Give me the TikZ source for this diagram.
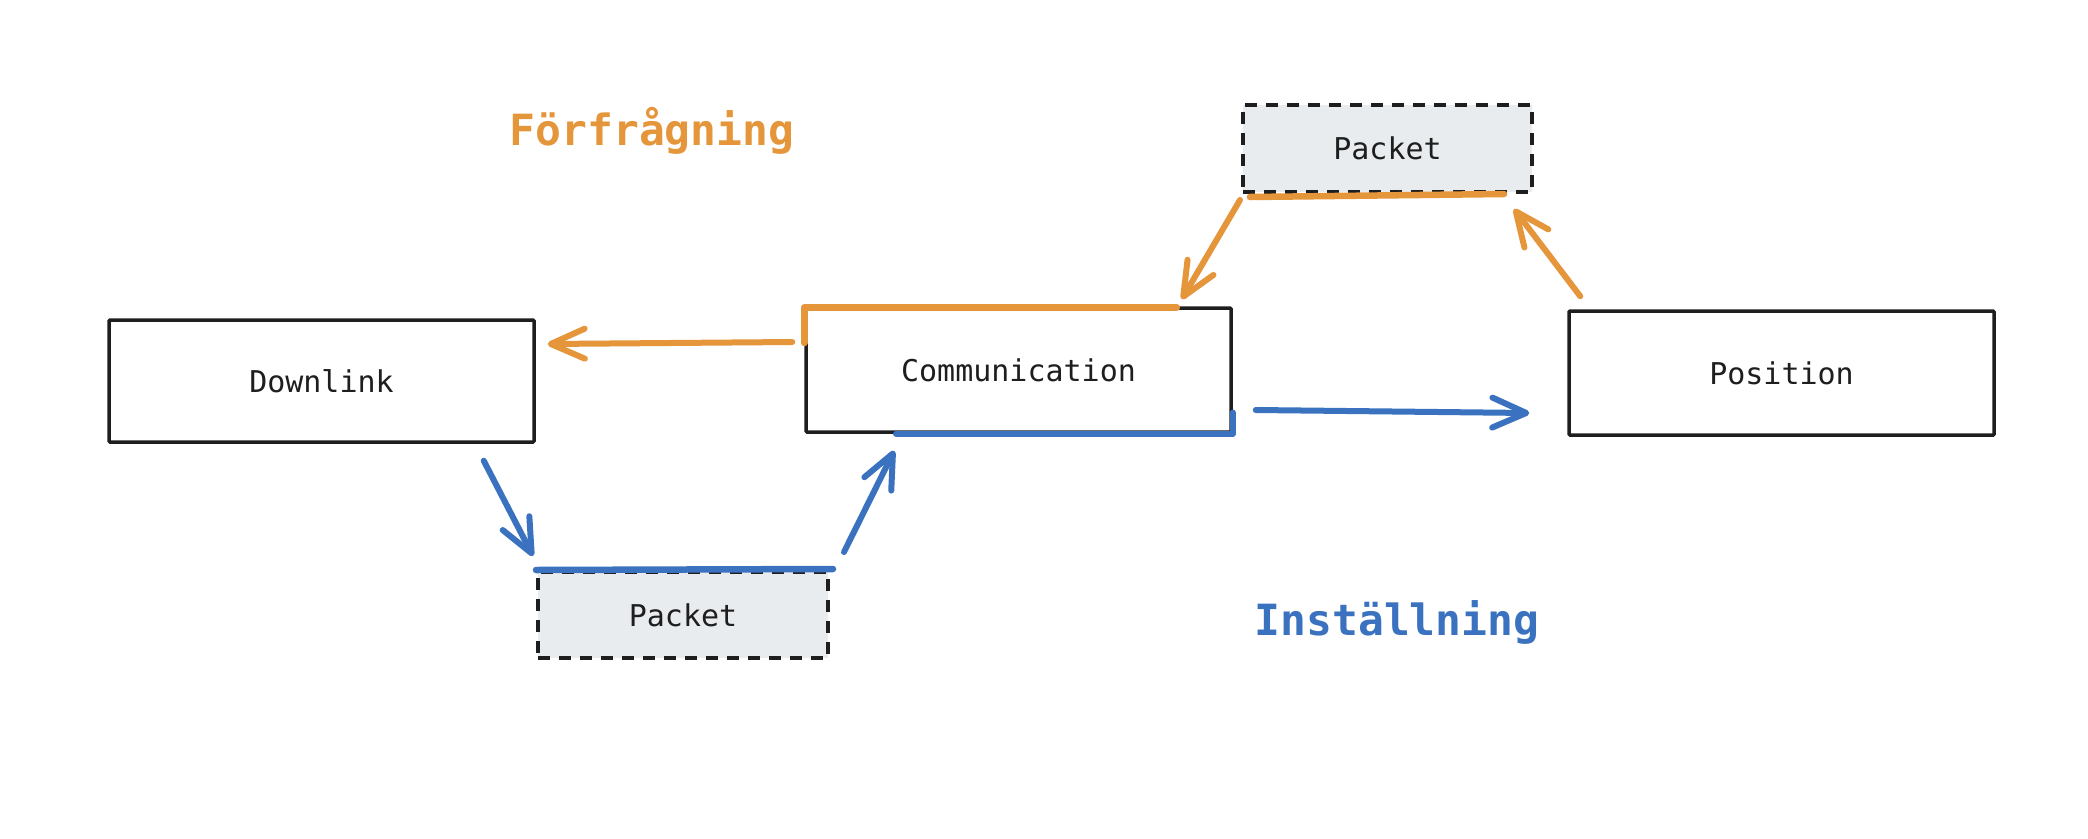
\documentclass[tikz,border=0pt]{standalone}
\usepackage{fontspec}
\setmainfont{DejaVu Sans Mono}
\usetikzlibrary{arrows.meta}
\definecolor{orng}{HTML}{E5953A}
\definecolor{blu}{HTML}{3A72C0}
\definecolor{ink}{HTML}{1E1E1E}
\definecolor{pkfill}{HTML}{E9ECEF}
\tikzset{
  mainbox/.style={draw=ink, line width=3.5pt, fill=white, minimum width=425pt, minimum height=124pt, inner sep=0pt, font=\fontsize{30}{36}\selectfont, text=ink, rounded corners=1pt},
  pktbox/.style={draw=ink, line width=4pt, dash pattern=on 12pt off 9pt, fill=pkfill, inner sep=0pt, font=\fontsize{30}{36}\selectfont, text=ink},
  oarrow/.style={draw=orng, line width=6pt, line cap=round, -{Straight Barb[length=34pt,width=30pt,line width=6pt,round]}},
  barrow/.style={draw=blu, line width=6pt, line cap=round, -{Straight Barb[length=34pt,width=30pt,line width=6pt,round]}},
  ohl/.style={draw=orng, line width=6.5pt, line cap=round, line join=round},
  bhl/.style={draw=blu, line width=6.5pt, line cap=round, line join=round},
  lbl/.style={font=\bfseries\fontsize{43}{50}\selectfont, anchor=base}
}
\begin{document}
\begin{tikzpicture}[x=1pt,y=-1pt]
\useasboundingbox[fill=white] (0,0) rectangle (2088,838);
\node[mainbox, minimum height=122pt] (down) at (321.5,381) {Downlink};
\node[mainbox] (comm) at (1018.5,370) {Communication};
\node[mainbox] (pos) at (1781.5,373) {Position};
\node[pktbox, minimum width=289pt, minimum height=87pt] (pkt1) at (1387.5,148.5) {Packet};
\node[pktbox, minimum width=290pt, minimum height=86pt] (pkt2) at (683,615) {Packet};
\node[lbl, text=orng] (req) at (652,145) {Förfrågning};
\node[lbl, text=blu] (set) at (1397,635) {Inställning};
% highlights
\draw[ohl] ([shift={(0,-27)}]comm.west) -- ([shift={(0,1)}]comm.north west) -- ([shift={(-56,1)}]comm.north east);
\draw[ohl] ([shift={(9,3)}]pkt1.south west) -- ([shift={(-30,0)}]pkt1.south east);
\draw[bhl] ([shift={(92,0)}]comm.south west) -- (comm.south east) -- ([shift={(0,-21)}]comm.south east);
\draw[bhl] (pkt2.north west) -- ([shift={(3,-1)}]pkt2.north east);
% arrows
\draw[oarrow] ([shift={(-12,-28)}]comm.west) -- ([shift={(12,-37)}]down.east);
\draw[oarrow] ([shift={(-1,6)}]pkt1.south west) -- ([shift={(-51,-7)}]comm.north east);
\draw[oarrow] ([shift={(13,-13)}]pos.north west) -- ([shift={(-20,15)}]pkt1.south east);
\draw[barrow] ([shift={(-52,17)}]down.south east) -- ([shift={(-3,-14)}]pkt2.north west);
\draw[barrow] ([shift={(14,-18)}]pkt2.north east) -- ([shift={(90,17)}]comm.south west);
\draw[barrow] ([shift={(23,40)}]comm.east) -- ([shift={(-38,40)}]pos.west);
\end{tikzpicture}
\end{document}
